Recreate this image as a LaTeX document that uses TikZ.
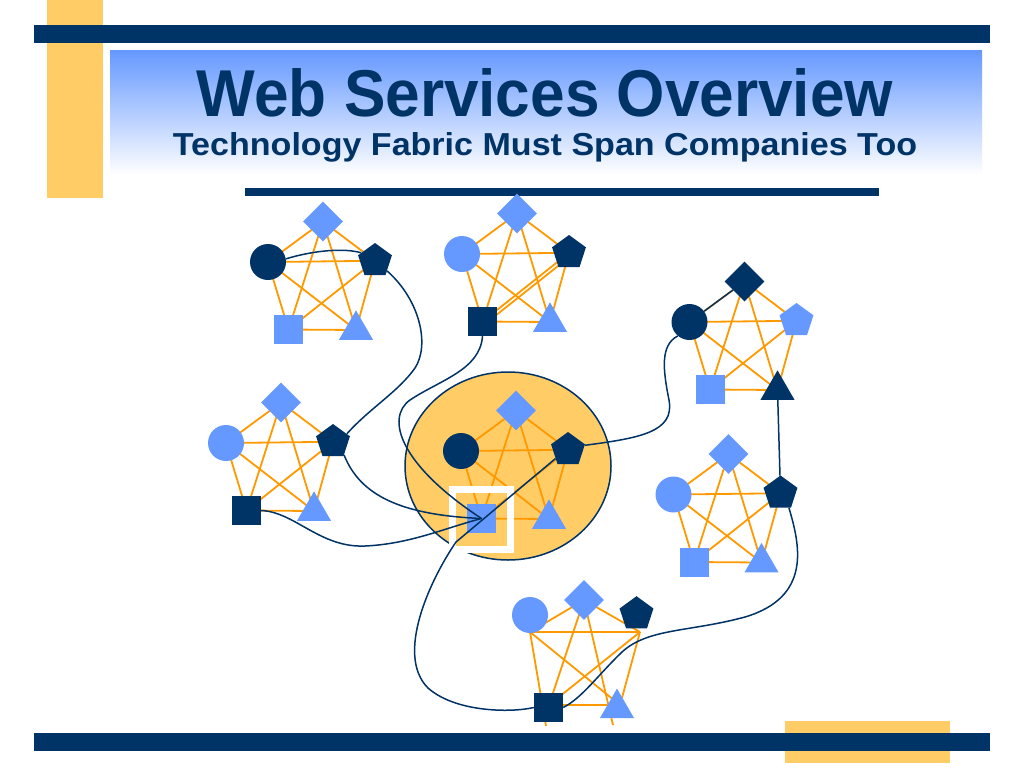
\documentclass[tikz,border=0pt]{standalone}
\usepackage{fontspec}
\setmainfont{Liberation Sans}
\usepackage{graphicx}
\usetikzlibrary{shapes.geometric}
\definecolor{navy}{RGB}{0,51,102}
\definecolor{lblue}{RGB}{102,153,255}
\definecolor{lorange}{RGB}{255,153,0}
\definecolor{gold}{RGB}{255,204,102}
\pgfdeclarelayer{deco}
\pgfdeclarelayer{edges}
\pgfsetlayers{deco,edges,main}
\tikzset{
  circ/.style={circle, minimum size=36pt, inner sep=0pt},
  dia/.style={diamond, minimum size=40pt, inner sep=0pt},
  pent/.style={regular polygon, regular polygon sides=5, minimum size=35.6pt, inner sep=0pt},
  sq/.style={rectangle, minimum size=29pt, inner sep=0pt},
  tri/.style={regular polygon, regular polygon sides=3, minimum size=39.3pt, inner sep=0pt},
  ol/.style={draw=lorange, line width=1.8pt},
  conn/.style={draw=navy, line width=1.5pt},
  ttl/.style={anchor=base, inner sep=0pt, text=navy},
}
\newcommand\wscluster[8]{%
  \node[circ, fill=#4] (#1-c) at (#2,#3) {};
  \node[dia, fill=#5] (#1-d) at (#2+55,#3-40.5) {};
  \node[pent, fill=#6] (#1-p) at (#2+107,#3-1.2) {};
  \node[sq, fill=#7] (#1-s) at (#2+20.5,#3+67.5) {};
  \node[tri, fill=#8] (#1-t) at (#2+88,#3+68) {};
  \begin{pgfonlayer}{edges}
    \foreach \u/\v in {c/d,c/p,c/s,c/t,d/p,d/s,d/t,p/s,p/t,s/t}
      \draw[ol] (#1-\u.center) -- (#1-\v.center);
  \end{pgfonlayer}
}
\begin{document}
\begin{tikzpicture}[x=1pt, y=-1pt]
  \useasboundingbox (0,0) rectangle (1024,768);
  \begin{pgfonlayer}{deco}
    \fill[white] (0,0) rectangle (1024,768);
    \fill[gold] (47,0) rectangle (103,198);
    \fill[navy] (34,25) rectangle (990,43);
    \shade[top color=lblue, bottom color=white] (110,51) rectangle (982,175);
    \fill[navy] (245,188) rectangle (879,196);
    \fill[gold] (785,721) rectangle (950,763);
    \fill[navy] (34,733) rectangle (990,751);
    \node[ellipse, fill=gold, draw=navy, line width=1.5pt, minimum width=206pt, minimum height=188pt, inner sep=0pt] (E-bg) at (508,466) {};
  \end{pgfonlayer}

  \node[ttl] (title) at (545,116) {\resizebox{696pt}{48pt}{\bfseries Web Services Overview}};
  \node[ttl] (subtitle) at (545,155.5) {\resizebox{744pt}{23pt}{\bfseries Technology Fabric Must Span Companies Too}};

  \wscluster{A}{268}{262}{navy}{lblue}{navy}{lblue}{lblue}
  \wscluster{B}{462}{254}{lblue}{lblue}{navy}{navy}{lblue}
  \wscluster{C}{689.5}{322}{navy}{navy}{lblue}{lblue}{navy}
  \wscluster{D}{226}{443}{lblue}{lblue}{navy}{navy}{lblue}
  \wscluster{E}{461}{451}{navy}{lblue}{navy}{lblue}{lblue}
  \wscluster{F}{673.5}{494.5}{lblue}{lblue}{navy}{lblue}{lblue}

  \begin{pgfonlayer}{edges}
    \draw[ol] ([shift={(2.5,2.5)}]B-s.center) -- ([shift={(2.5,2.5)}]B-p.center);
  \end{pgfonlayer}

  % bottom cluster (distorted)
  \node[circ, fill=lblue] (G-c) at (530,615) {};
  \node[dia, fill=lblue] (G-d) at (584,600) {};
  \node[pent, fill=navy] (G-p) at (636.5,614) {};
  \node[sq, fill=navy] (G-s) at (548.5,707.5) {};
  \node[tri, fill=lblue] (G-t) at (617,708.2) {};
  \coordinate (G-vc) at (530,632);
  \coordinate (G-vd) at (584,600);
  \coordinate (G-vp) at (640,632);
  \coordinate (G-vs) at (549,705);
  \coordinate (G-vt) at (620,705);
  \coordinate (G-ec) at (546,726);
  \coordinate (G-et) at (613,725);
  \begin{pgfonlayer}{edges}
    \foreach \u/\v in {vc/vd,vc/vp,vc/ec,vc/vt,vd/vp,vd/vs,vd/et,vp/vs,vp/vt,vs/vt}
      \draw[ol] (G-\u) -- (G-\v);
  \end{pgfonlayer}

  \node[draw=white, line width=7pt, minimum width=58pt, minimum height=60pt, inner sep=0pt] (E-frame) at (481.5,519.5) {};

  % connectors
  \draw[conn] (A-c.10) .. controls (315,250) and (345,248) .. (A-p.150);
  \draw[conn] (A-p.-40) .. controls (420,300) and (430,345) .. (415,368)
              .. controls (398,392) and (370,408) .. (D-p.30);
  \draw[conn] (B-s.south) .. controls (480,370) and (440,380) .. (410,400)
              .. controls (385,418) and (400,465) .. (E-s.center);
  \draw[conn] (D-p.-50) .. controls (360,495) and (400,515) .. (E-s.center);
  \draw[conn] (D-s.east) .. controls (295,512) and (320,548) .. (365,546)
              .. controls (410,544) and (445,528) .. (E-s.center);
  \draw[conn] (E-p.-145) -- (456,542) .. controls (430,580) and (395,655) .. (428,688)
              .. controls (455,712) and (510,713) .. (G-s.west);
  \draw[conn] (E-p.15) .. controls (640,438) and (675,432) .. (669,400)
              .. controls (663,370) and (660,345) .. (C-c.-130);
  \draw[conn] (C-c) -- (C-d);
  \draw[conn] (C-t) -- (F-p);
  \draw[conn] (F-p.-60) .. controls (800,545) and (812,597) .. (745,617)
              .. controls (690,632) and (648,628) .. (622,652)
              .. controls (598,675) and (582,698) .. (G-s.east);
\end{tikzpicture}
\end{document}
